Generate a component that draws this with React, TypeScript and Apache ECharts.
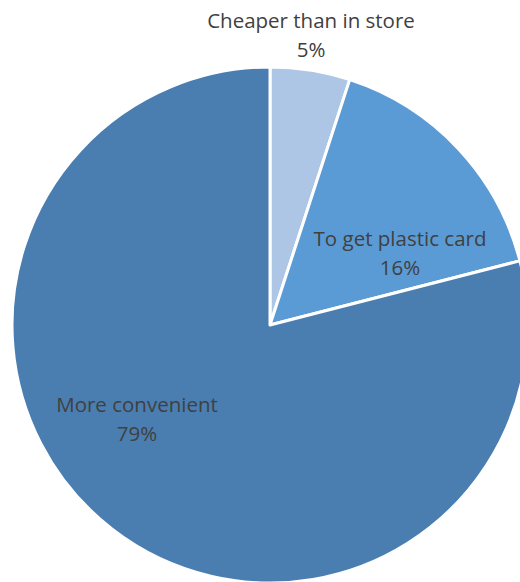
import React, { useEffect, useRef } from "react";
import * as echarts from "echarts";

const categories = ["Cheaper than in store", "To get plastic card", "More convenient"];
const values = [5, 16, 79];
const colors = ["#adc6e6", "#5b9bd5", "#4a7eb0"];
const labelPos = [
  [311, 34],
  [400, 252],
  [137, 418],
];

export default function App() {
  const ref = useRef<HTMLDivElement>(null);
  useEffect(() => {
    if (!ref.current) return;
    const chart = echarts.init(ref.current, null, { renderer: "svg" });
    chart.setOption({
      animation: false,
      backgroundColor: "#ffffff",
      series: [
        {
          type: "pie",
          center: [270, 325],
          radius: [0, 258],
          startAngle: 90,
          clockwise: true,
          avoidLabelOverlap: false,
          itemStyle: { borderColor: "#ffffff", borderWidth: 3 },
          label: {
            show: true,
            position: "inside",
            formatter: "{b}\n{d}%",
            fontFamily: "Open Sans",
            fontSize: 20.5,
            lineHeight: 29,
            color: "#404040",
            align: "center",
          },
          labelLine: { show: false },
          labelLayout: (p: any) => ({
            x: labelPos[p.dataIndex][0],
            y: labelPos[p.dataIndex][1],
            align: "center",
            verticalAlign: "middle",
          }),
          emphasis: { disabled: true },
          data: categories.map((c, i) => ({
            name: c,
            value: values[i],
            itemStyle: { color: colors[i] },
          })),
        },
      ],
    });
    return () => chart.dispose();
  }, []);
  return (
    <div
      ref={ref}
      style={{ position: "absolute", left: 0, top: 0, width: 520, height: 582 }}
    />
  );
}
